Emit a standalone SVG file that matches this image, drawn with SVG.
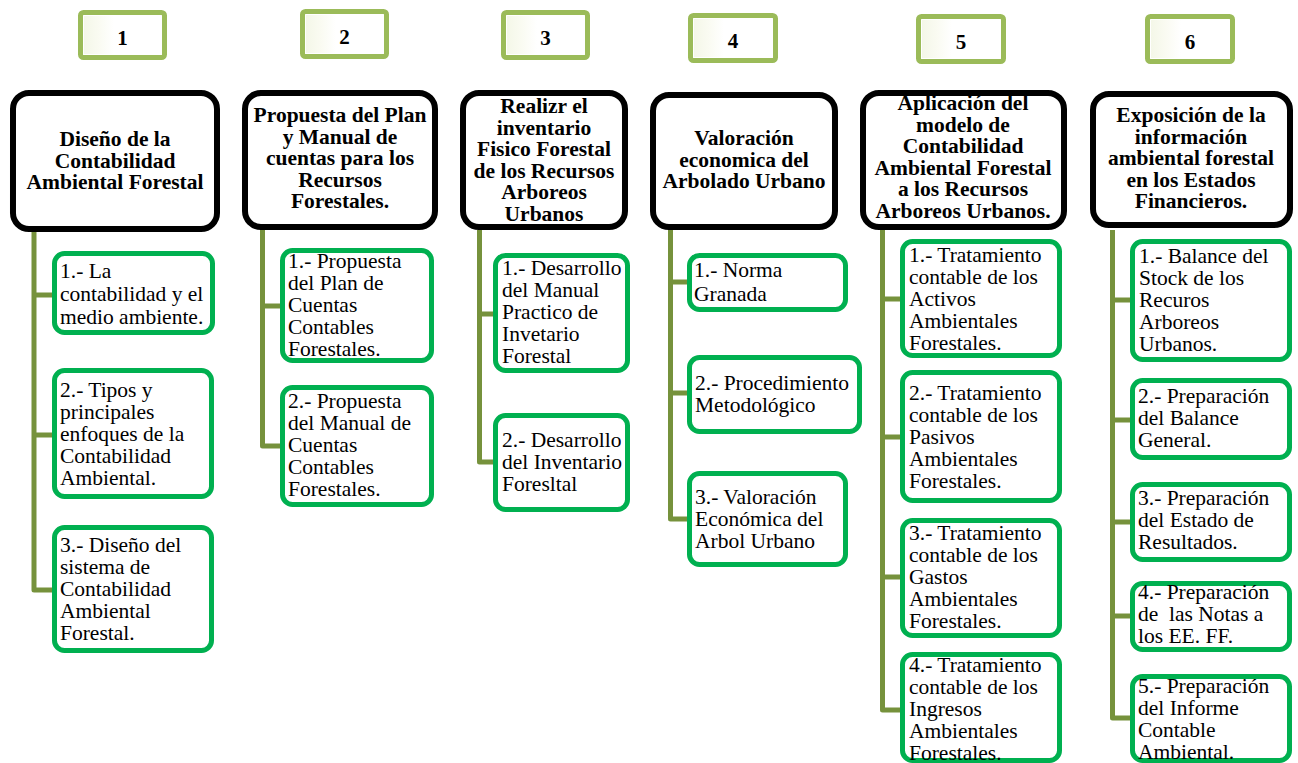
<svg xmlns="http://www.w3.org/2000/svg" width="1298" height="763" viewBox="0 0 1298 763">
<defs>
<linearGradient id="fade" x1="0" y1="0" x2="1" y2="0">
<stop offset="0" stop-color="#F4F7E8"/>
<stop offset="0.5" stop-color="#FAFBF2"/>
<stop offset="1" stop-color="#FFFFFF"/>
</linearGradient>
</defs>
<style>
.num rect.b{fill:#FFFFFF;stroke:#9BBB59;stroke-width:5}
.num rect.g{fill:url(#fade)}
.num text{font-family:"Liberation Serif",serif;font-weight:bold;font-size:21px;text-anchor:middle;fill:#000}
.hd rect{fill:#FFFFFF;stroke:#000;stroke-width:6}
.hd text{font-family:"Liberation Serif",serif;font-weight:bold;font-size:21.5px;text-anchor:middle;fill:#000}
.ch rect{fill:#FFFFFF;stroke:#00B050;stroke-width:5}
.ch text{font-family:"Liberation Serif",serif;font-size:21.5px;fill:#000;white-space:pre}
.con path{fill:none;stroke:#76923C;stroke-width:5;stroke-linejoin:round}
</style>
<rect width="1298" height="763" fill="#FFFFFF"/>

<g id="connectors" class="con">
<path d="M34 230 V590 H54 M34 295 H54 M34 435 H54"/>
<path d="M262.5 230 V446 H282 M262.5 306 H282"/>
<path d="M479.5 230 V462 H495 M479.5 314 H495"/>
<path d="M670.5 230 V519 H689 M670.5 282 H689 M670.5 393 H689"/>
<path d="M882.5 230 V710 H902 M882.5 299 H902 M882.5 437 H902 M882.5 577 H902"/>
<path d="M1112.5 230 V718 H1132 M1112.5 300 H1132 M1112.5 420 H1132 M1112.5 522 H1132 M1112.5 616 H1132"/>
</g>

<g id="num1" class="num"><rect class="b" x="80.5" y="12.5" width="84" height="45" rx="3"/><rect class="g" x="84" y="16" width="30" height="38"/><text x="122.5" y="45">1</text></g>
<g id="num2" class="num"><rect class="b" x="302.5" y="11.5" width="84" height="45" rx="3"/><rect class="g" x="306" y="15" width="30" height="38"/><text x="344.5" y="44">2</text></g>
<g id="num3" class="num"><rect class="b" x="503.5" y="12.5" width="84" height="45" rx="3"/><rect class="g" x="507" y="16" width="30" height="38"/><text x="545.5" y="45">3</text></g>
<g id="num4" class="num"><rect class="b" x="690.5" y="15.5" width="85" height="45" rx="3"/><rect class="g" x="694" y="19" width="30" height="38"/><text x="733" y="48">4</text></g>
<g id="num5" class="num"><rect class="b" x="918.5" y="16.5" width="85" height="45" rx="3"/><rect class="g" x="922" y="20" width="30" height="38"/><text x="961" y="49">5</text></g>
<g id="num6" class="num"><rect class="b" x="1147.5" y="16.5" width="85" height="45" rx="3"/><rect class="g" x="1151" y="20" width="30" height="38"/><text x="1190" y="49">6</text></g>

<g id="head1" class="hd"><rect x="13" y="93" width="204" height="136" rx="16"/>
<text x="115" y="146">Diseño de la</text><text x="115" y="167.5">Contabilidad</text><text x="115" y="189">Ambiental Forestal</text></g>
<g id="head2" class="hd"><rect x="245" y="93" width="190" height="134" rx="16"/>
<text x="340" y="122">Propuesta del Plan</text><text x="340" y="143.5">y Manual de</text><text x="340" y="165">cuentas para los</text><text x="340" y="186.5">Recursos</text><text x="340" y="208">Forestales.</text></g>
<g id="head3" class="hd"><rect x="463" y="93" width="162" height="134" rx="16"/>
<text x="544" y="113">Realizr el</text><text x="544" y="134.5">inventario</text><text x="544" y="156">Fisico Forestal</text><text x="544" y="177.5">de los Recursos</text><text x="544" y="199">Arboreos</text><text x="544" y="220.5">Urbanos</text></g>
<g id="head4" class="hd"><rect x="653" y="95" width="182" height="132" rx="16"/>
<text x="744" y="145">Valoración</text><text x="744" y="166.5">economica del</text><text x="744" y="188">Arbolado Urbano</text></g>
<g id="head5" class="hd"><rect x="863" y="93" width="201" height="134" rx="16"/>
<text x="963" y="110">Aplicación del</text><text x="963" y="131.5">modelo de</text><text x="963" y="153">Contabilidad</text><text x="963" y="174.5">Ambiental Forestal</text><text x="963" y="196">a los Recursos</text><text x="963" y="217.5">Arboreos Urbanos.</text></g>
<g id="head6" class="hd"><rect x="1093" y="94" width="197" height="131" rx="16"/>
<text x="1191" y="122">Exposición de la</text><text x="1191" y="143.5">información</text><text x="1191" y="165">ambiental forestal</text><text x="1191" y="186.5">en los Estados</text><text x="1191" y="208">Financieros.</text></g>

<g id="c1-1" class="ch"><rect x="54.5" y="253.5" width="158" height="79" rx="10"/>
<text x="60" y="278">1.- La</text><text x="60" y="301">contabilidad y el</text><text x="60" y="324">medio ambiente.</text></g>
<g id="c1-2" class="ch"><rect x="54.5" y="370.5" width="157" height="126" rx="10"/>
<text x="60" y="397">2.- Tipos y</text><text x="60" y="419">principales</text><text x="60" y="441">enfoques de la</text><text x="60" y="463">Contabilidad</text><text x="60" y="485">Ambiental.</text></g>
<g id="c1-3" class="ch"><rect x="54.5" y="527.5" width="157" height="123" rx="10"/>
<text x="60" y="552">3.- Diseño del</text><text x="60" y="574">sistema de</text><text x="60" y="596">Contabilidad</text><text x="60" y="618">Ambiental</text><text x="60" y="640">Forestal.</text></g>

<g id="c2-1" class="ch"><rect x="282.5" y="250.5" width="149" height="110" rx="10"/>
<text x="288" y="268">1.- Propuesta</text><text x="288" y="290">del Plan de</text><text x="288" y="312">Cuentas</text><text x="288" y="334">Contables</text><text x="288" y="356">Forestales.</text></g>
<g id="c2-2" class="ch"><rect x="282.5" y="387.5" width="149" height="117" rx="10"/>
<text x="288" y="408">2.- Propuesta</text><text x="288" y="430">del Manual de</text><text x="288" y="452">Cuentas</text><text x="288" y="474">Contables</text><text x="288" y="496">Forestales.</text></g>

<g id="c3-1" class="ch"><rect x="495.5" y="255.5" width="132" height="115" rx="10"/>
<text x="502" y="275">1.- Desarrollo</text><text x="502" y="297">del Manual</text><text x="502" y="319">Practico de</text><text x="502" y="341">Invetario</text><text x="502" y="363">Forestal</text></g>
<g id="c3-2" class="ch"><rect x="495.5" y="415.5" width="132" height="94" rx="10"/>
<text x="502" y="447">2.- Desarrollo</text><text x="502" y="469">del Inventario</text><text x="502" y="491">Foresltal</text></g>

<g id="c4-1" class="ch"><rect x="689.5" y="255.5" width="156" height="54" rx="10"/>
<text x="694" y="277">1.- Norma</text><text x="694" y="301">Granada</text></g>
<g id="c4-2" class="ch"><rect x="689.5" y="357.5" width="170" height="74" rx="10"/>
<text x="695" y="390">2.- Procedimiento</text><text x="695" y="412">Metodológico</text></g>
<g id="c4-3" class="ch"><rect x="689.5" y="473.5" width="156" height="91" rx="10"/>
<text x="695" y="504">3.- Valoración</text><text x="695" y="526">Económica del</text><text x="695" y="548">Arbol Urbano</text></g>

<g id="c5-1" class="ch"><rect x="902.5" y="241.5" width="157" height="114" rx="10"/>
<text x="909" y="262">1.- Tratamiento</text><text x="909" y="284">contable de los</text><text x="909" y="306">Activos</text><text x="909" y="328">Ambientales</text><text x="909" y="350">Forestales.</text></g>
<g id="c5-2" class="ch"><rect x="902.5" y="372.5" width="157" height="128" rx="10"/>
<text x="909" y="400">2.- Tratamiento</text><text x="909" y="422">contable de los</text><text x="909" y="444">Pasivos</text><text x="909" y="466">Ambientales</text><text x="909" y="488">Forestales.</text></g>
<g id="c5-3" class="ch"><rect x="902.5" y="520.5" width="157" height="115" rx="10"/>
<text x="909" y="540">3.- Tratamiento</text><text x="909" y="562">contable de los</text><text x="909" y="584">Gastos</text><text x="909" y="606">Ambientales</text><text x="909" y="628">Forestales.</text></g>
<g id="c5-4" class="ch"><rect x="902.5" y="654.5" width="157" height="106" rx="10"/>
<text x="909" y="672">4.- Tratamiento</text><text x="909" y="694">contable de los</text><text x="909" y="716">Ingresos</text><text x="909" y="738">Ambientales</text><text x="909" y="760">Forestales.</text></g>

<g id="c6-1" class="ch"><rect x="1132.5" y="241.5" width="157" height="118" rx="10"/>
<text x="1139" y="263">1.- Balance del</text><text x="1139" y="285">Stock de los</text><text x="1139" y="307">Recuros</text><text x="1139" y="329">Arboreos</text><text x="1139" y="351">Urbanos.</text></g>
<g id="c6-2" class="ch"><rect x="1132.5" y="380.5" width="157" height="77" rx="10"/>
<text x="1138" y="403">2.- Preparación</text><text x="1138" y="425">del Balance</text><text x="1138" y="447">General.</text></g>
<g id="c6-3" class="ch"><rect x="1132.5" y="484.5" width="157" height="75" rx="10"/>
<text x="1138" y="505">3.- Preparación</text><text x="1138" y="527">del Estado de</text><text x="1138" y="549">Resultados.</text></g>
<g id="c6-4" class="ch"><rect x="1132.5" y="583.5" width="157" height="66" rx="10"/>
<text x="1138" y="599">4.- Preparación</text><text x="1138" y="621">de  las Notas a</text><text x="1138" y="643">los EE. FF.</text></g>
<g id="c6-5" class="ch"><rect x="1132.5" y="676.5" width="157" height="84" rx="10"/>
<text x="1138" y="693">5.- Preparación</text><text x="1138" y="715">del Informe</text><text x="1138" y="737">Contable</text><text x="1138" y="759">Ambiental.</text></g>
</svg>
